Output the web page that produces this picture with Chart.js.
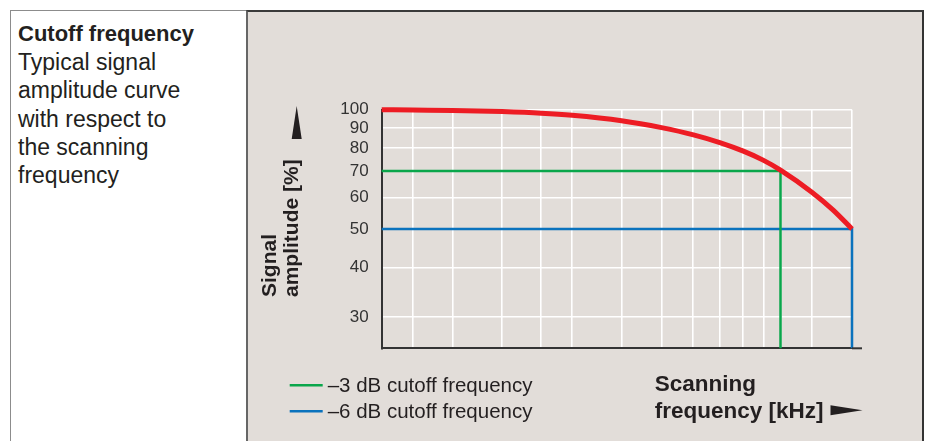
<!DOCTYPE html>
<html>
<head>
<meta charset="utf-8">
<script src="https://cdn.jsdelivr.net/npm/chart.js@4.4.0/dist/chart.umd.min.js"></script>
<style>
  html, body { margin: 0; padding: 0; width: 928px; height: 441px; background: #fff; overflow: hidden; }
  body { font-family: "Liberation Sans", Arial, sans-serif; color: #231f20; }
  #left { position: absolute; left: 10px; top: 10px; width: 237px; height: 431px; box-sizing: border-box;
          border-top: 1px solid #8c8c8c; border-left: 1px solid #8c8c8c; }
  #right { position: absolute; left: 246px; top: 10px; width: 678px; height: 431px; box-sizing: border-box;
           background: #e2ddd9; border-top: 2px solid #3a3a3a; border-left: 2px solid #666; border-right: 2px solid #333; }
  #note { position: absolute; left: 18px; top: 19px; font-size: 23px; line-height: 28.2px; }
  #note b { font-weight: bold; font-size: 22px; }
  canvas { position: absolute; left: 0; top: 0; }
</style>
</head>
<body>
<div id="left"></div>
<div id="right"></div>
<div id="note"><b>Cutoff frequency</b><br>Typical signal<br>amplitude curve<br>with respect to<br>the scanning<br>frequency</div>
<canvas id="cutoff-chart" width="928" height="441"></canvas>
<script>
// Signal amplitude curve (x runs 0..100 across the frequency axis, no labels in the source)
const curveX = [0, 6.6, 15.1, 25.6, 33.9, 40.5, 51.0, 59.5, 66.3, 71.9, 76.9, 81.1, 84.8, 91.4, 96.0, 100];
const curveY = [100, 99.8, 99.6, 98.9, 98.0, 96.8, 93.8, 90.1, 86.4, 82.6, 78.6, 74.6, 70.4, 62.0, 55.8, 50];

// -3 dB and -6 dB cutoff markers
const cut3X = [0, 84.8, 84.8];
const cut3Y = [70, 70, 25];
const cut6X = [0, 100, 100];
const cut6Y = [50, 50, 25];

// ticks / grid
const yTicks = [30, 40, 50, 60, 70, 80, 90, 100];
const xGrid = [0, 6.6, 15.1, 25.6, 33.9, 40.5, 51.0, 59.5, 66.1, 71.9, 76.7, 81.2, 84.8, 91.5, 100];

const legendLabels = ['\u20133 dB cutoff frequency', '\u20136 dB cutoff frequency'];
const yTitle = ['Signal', 'amplitude [%]'];
const xTitle = ['Scanning', 'frequency [kHz]'];

const FONT = '"Liberation Sans", Arial, sans-serif';
const TEXT = '#231f20';

function pts(xs, ys) {
    return xs.map((x, i) => ({ x: x, y: ys[i] }));
}

function triangle(ctx, x1, y1, x2, y2, half) {
    // filled arrow head from (x1,y1) base centre to (x2,y2) tip
    const dx = x2 - x1, dy = y2 - y1;
    const len = Math.hypot(dx, dy);
    const nx = -dy / len * half, ny = dx / len * half;
    ctx.beginPath();
    ctx.moveTo(x1 + nx, y1 + ny);
    ctx.lineTo(x2, y2);
    ctx.lineTo(x1 - nx, y1 - ny);
    ctx.closePath();
    ctx.fill();
}

// titles, legend and the small axis overhang
const notesPlugin = {
    id: 'notes',
    afterDraw(chart) {
        const { ctx, chartArea } = chart;
        const L = chartArea.left, B = chartArea.bottom;
        ctx.save();

        // x axis runs a little past the plot
        ctx.strokeStyle = '#333';
        ctx.lineWidth = 2;
        ctx.beginPath();
        ctx.moveTo(chartArea.right, B);
        ctx.lineTo(chartArea.right + 10, B);
        ctx.stroke();

        // legend
        const legendSets = chart.data.datasets.filter(d => d.inLegend);
        ctx.font = '20.5px ' + FONT;
        ctx.textBaseline = 'alphabetic';
        ctx.textAlign = 'left';
        legendSets.forEach((ds, i) => {
            const y = B + 37 + i * 26;
            ctx.strokeStyle = ds.borderColor;
            ctx.lineWidth = 2.5;
            ctx.beginPath();
            ctx.moveTo(L - 92, y);
            ctx.lineTo(L - 59, y);
            ctx.stroke();
            ctx.fillStyle = TEXT;
            ctx.fillText(ds.label, L - 54, y + 7);
        });

        // x title
        ctx.fillStyle = TEXT;
        ctx.font = 'bold 22.5px ' + FONT;
        const tx = L + 273;
        ctx.fillText(xTitle[0], tx, B + 43);
        ctx.fillText(xTitle[1], tx, B + 70);
        const w = ctx.measureText(xTitle[1]).width;
        triangle(ctx, tx + w + 7, B + 62, tx + w + 39, B + 62, 5);

        // y title (rotated)
        ctx.font = 'bold 21px ' + FONT;
        ctx.save();
        ctx.translate(L - 106, 297);
        ctx.rotate(-Math.PI / 2);
        ctx.fillText(yTitle[0], 0, 0);
        ctx.fillText(yTitle[1], 0, 22);
        ctx.restore();
        triangle(ctx, L - 85, 139, L - 85, 106, 5);

        ctx.restore();
    }
};

const cutoffData = {
    datasets: [
        {
            label: 'Signal amplitude',
            data: pts(curveX, curveY),
            borderColor: '#ed1c24',
            borderWidth: 5,
            pointRadius: 0,
            cubicInterpolationMode: 'monotone',
            clip: false
        },
        {
            label: legendLabels[0],
            inLegend: true,
            data: pts(cut3X, cut3Y),
            borderColor: '#0aa64b',
            borderWidth: 2.5,
            pointRadius: 0,
            tension: 0,
            clip: false
        },
        {
            label: legendLabels[1],
            inLegend: true,
            data: pts(cut6X, cut6Y),
            borderColor: '#0a72bd',
            borderWidth: 2.5,
            pointRadius: 0,
            tension: 0,
            clip: false
        }
    ]
};

const cutoffConfig = {
    type: 'line',
    data: cutoffData,
    options: {
        responsive: false,
        animation: false,
        events: [],
        layout: {
            padding: { left: 0, top: 109.7, right: 76, bottom: 92.7 }
        },
        plugins: {
            legend: { display: false },
            tooltip: { enabled: false }
        },
        scales: {
            x: {
                type: 'linear',
                min: 0,
                max: 100,
                afterBuildTicks: (scale) => { scale.ticks = xGrid.map(v => ({ value: v })); },
                afterFit: (scale) => { scale.height = 0; },
                ticks: { display: false },
                grid: { color: '#ffffff', lineWidth: 1.6, drawTicks: false },
                border: { color: '#333', width: 2 }
            },
            y: {
                type: 'logarithmic',
                min: 25,
                max: 100,
                afterBuildTicks: (scale) => { scale.ticks = yTicks.map(v => ({ value: v })); },
                afterFit: (scale) => { scale.width = 381.7; },
                ticks: {
                    padding: 13,
                    color: '#333',
                    font: { family: FONT, size: 17 },
                    callback: (v) => String(v)
                },
                grid: { color: '#ffffff', lineWidth: 1.6, drawTicks: false },
                border: { color: '#333', width: 2 }
            }
        }
    },
    plugins: [notesPlugin]
};

const cutoffCanvas = document.getElementById('cutoff-chart').getContext('2d');
const cutoffChart = new Chart(cutoffCanvas, cutoffConfig);
</script>
</body>
</html>
